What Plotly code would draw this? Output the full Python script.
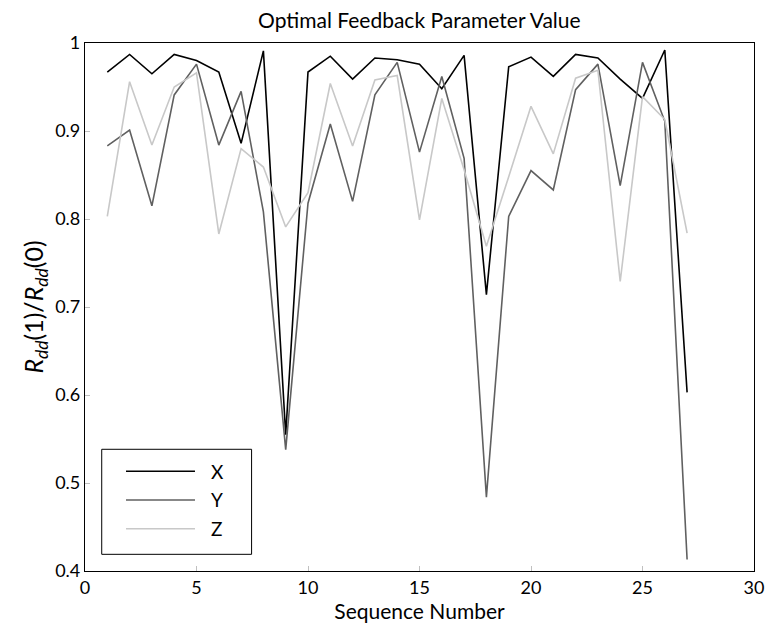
import plotly.graph_objects as go

seq = list(range(1, 28))
x_vals = [0.967, 0.987, 0.965, 0.987, 0.980, 0.967, 0.886, 0.991, 0.555,
          0.967, 0.985, 0.959, 0.983, 0.981, 0.976, 0.948, 0.986, 0.714,
          0.973, 0.984, 0.962, 0.987, 0.983, 0.959, 0.937, 0.992, 0.603]
y_vals = [0.883, 0.901, 0.815, 0.941, 0.976, 0.884, 0.945, 0.808, 0.538,
          0.818, 0.908, 0.820, 0.941, 0.978, 0.876, 0.962, 0.869, 0.484,
          0.803, 0.855, 0.833, 0.947, 0.976, 0.838, 0.978, 0.911, 0.413]
z_vals = [0.803, 0.956, 0.884, 0.950, 0.966, 0.783, 0.880, 0.859, 0.791,
          0.830, 0.954, 0.883, 0.958, 0.963, 0.799, 0.937, 0.856, 0.769,
          0.848, 0.928, 0.874, 0.960, 0.969, 0.729, 0.939, 0.913, 0.784]

names = ["X", "Y", "Z"]
colors = ["#000000", "#606060", "#c8c8c8"]
series = [x_vals, y_vals, z_vals]

FONT = "Lato"

fig = go.Figure()
for n, c, v in zip(names, colors, series):
    fig.add_trace(go.Scatter(x=seq, y=v, mode="lines", name=n,
                             line=dict(color=c, width=1.6), showlegend=False))

# Legend drawn as a framed box in paper coordinates
shapes = [dict(type="rect", xref="paper", yref="paper",
               x0=0.025, x1=0.249, y0=0.0316, y1=0.2305,
               line=dict(color="#000", width=1), fillcolor="white", layer="above")]
annotations = []
row_y = [0.189, 0.1345, 0.080]
for n, c, ry in zip(names, colors, row_y):
    shapes.append(dict(type="line", xref="paper", yref="paper",
                       x0=0.0613, x1=0.1644, y0=ry, y1=ry,
                       line=dict(color=c, width=1.6), layer="above"))
    annotations.append(dict(text=n, xref="paper", yref="paper", x=0.185, y=ry,
                            xanchor="left", yanchor="middle", showarrow=False,
                            font=dict(family=FONT, size=19, color="#000")))

fig.update_layout(
    width=768, height=628,
    margin=dict(l=85, r=14, t=43, b=57),
    paper_bgcolor="white", plot_bgcolor="white",
    font=dict(family=FONT, size=18, color="#000"),
    title=dict(text="Optimal Feedback Parameter Value", x=0.546, xanchor="center",
               y=0.967, yanchor="middle", font=dict(family=FONT, size=21)),
    shapes=shapes, annotations=annotations,
    xaxis=dict(range=[0, 30], tickvals=[0, 5, 10, 15, 20, 25, 30],
               showgrid=False, zeroline=False, showline=True, mirror=True,
               linecolor="#000", linewidth=1.2, ticks="inside", ticklen=5,
               tickcolor="#c0c0c0", tickfont=dict(size=18), automargin=False,
               title=dict(text="Sequence Number", font=dict(size=21), standoff=2)),
    yaxis=dict(range=[0.4, 1], tickvals=[0.4, 0.5, 0.6, 0.7, 0.8, 0.9, 1],
               ticktext=["0.4", "0.5", "0.6", "0.7", "0.8", "0.9", "1"],
               showgrid=False, zeroline=False, showline=True, mirror=True,
               linecolor="#000", linewidth=1.2, ticks="inside", ticklen=5,
               tickcolor="#c0c0c0", tickfont=dict(size=18), automargin=False,
               title=dict(text="<i>R</i><sub><i>dd</i></sub>(1)/<i>R</i><sub><i>dd</i></sub>(0)",
                          font=dict(size=25), standoff=4)),
)

fig.write_html("out.html", config={"displayModeBar": False},
               post_script="document.body.style.margin='0px';")
